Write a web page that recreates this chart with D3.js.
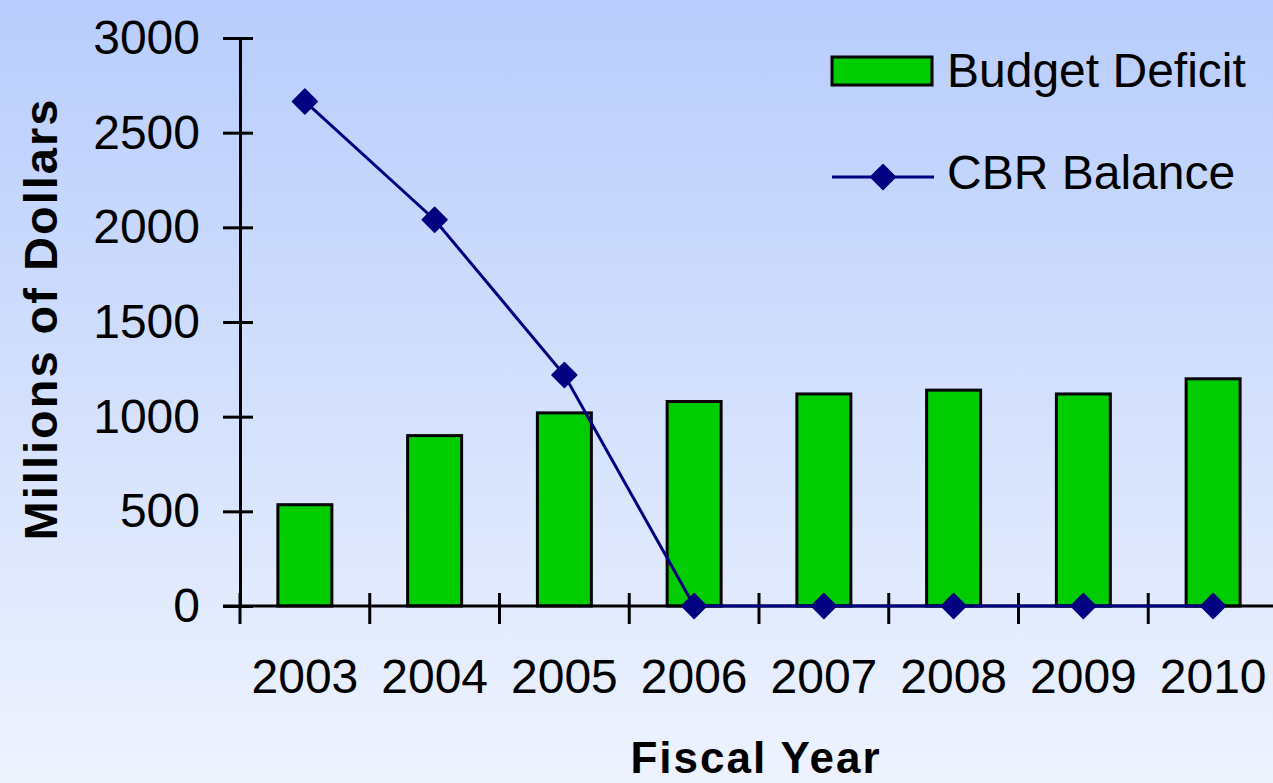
<!DOCTYPE html>
<html>
<head>
<meta charset="utf-8">
<script src="https://cdn.jsdelivr.net/npm/d3@7"></script>
<style>
  body { margin: 0; padding: 0; overflow: hidden; }
  svg { display: block; font-family: "Liberation Sans", Arial, sans-serif; }
</style>
</head>
<body>
<svg id="chart" width="1273" height="783"></svg>
<script>
// chart data
var years = ["2003", "2004", "2005", "2006", "2007", "2008", "2009", "2010"];
var budgetDeficit = [535, 900, 1020, 1080, 1120, 1140, 1120, 1200];
var cbrBalance = [2665, 2040, 1220, 0, 0, 0, 0, 0];
var yTicks = [0, 500, 1000, 1500, 2000, 2500, 3000];

var svg = d3.select("#chart");

// background gradient
var defs = svg.append("defs");
var grad = defs.append("linearGradient")
	.attr("id", "bg")
	.attr("x1", 0).attr("y1", 0)
	.attr("x2", 0).attr("y2", 1);
grad.append("stop").attr("offset", "0%").attr("stop-color", "#b8cdfc");
grad.append("stop").attr("offset", "100%").attr("stop-color", "#eef3fe");

svg.append("rect")
	.attr("width", 1273)
	.attr("height", 783)
	.attr("fill", "url(#bg)");

// scales
var x = d3.scaleBand()
	.domain(years)
	.range([240, 1278])
	.paddingInner(0.584)
	.paddingOuter(0.292);

var y = d3.scaleLinear()
	.domain([0, 3000])
	.range([606, 38]);

// bars
svg.append("g")
	.selectAll("rect")
	.data(years)
	.enter()
	.append("rect")
	.attr("x", (d) => x(d))
	.attr("y", (d, i) => y(budgetDeficit[i]))
	.attr("width", x.bandwidth())
	.attr("height", (d, i) => y(0) - y(budgetDeficit[i]))
	.attr("fill", "#00cc00")
	.attr("stroke", "#000")
	.attr("stroke-width", 3);

// y axis
var yAxis = svg.append("g")
	.attr("transform", "translate(240,0)")
	.call(d3.axisLeft(y).tickValues(yTicks).tickFormat(d3.format("d"))
		.tickSize(17).tickSizeOuter(0).tickPadding(23));
yAxis.select(".domain").attr("stroke-width", 3);
yAxis.selectAll(".tick line").attr("x1", 13).attr("stroke-width", 3);
yAxis.selectAll(".tick text")
	.attr("font-size", 48)
	.attr("font-family", "Liberation Sans, Arial, sans-serif")
	.attr("fill", "#000");

// x axis line
svg.append("line")
	.attr("x1", 223).attr("x2", 1273)
	.attr("y1", y(0)).attr("y2", y(0))
	.attr("stroke", "#000")
	.attr("stroke-width", 3);

// x ticks at band boundaries
svg.append("g")
	.selectAll("line")
	.data(years)
	.enter()
	.append("line")
	.attr("x1", (d) => x(d) + x.bandwidth() / 2 - x.step() / 2)
	.attr("x2", (d) => x(d) + x.bandwidth() / 2 - x.step() / 2)
	.attr("y1", y(0) - 13)
	.attr("y2", y(0) + 18)
	.attr("stroke", "#000")
	.attr("stroke-width", 3);

// x labels
svg.append("g")
	.selectAll("text")
	.data(years)
	.enter()
	.append("text")
	.attr("x", (d) => x(d) + x.bandwidth() / 2)
	.attr("y", 693)
	.attr("text-anchor", "middle")
	.attr("font-size", 48)
	.text((d) => d);

// line series
var line = d3.line()
	.x((d, i) => x(years[i]) + x.bandwidth() / 2)
	.y((d) => y(d));

svg.append("path")
	.datum(cbrBalance)
	.attr("d", line)
	.attr("fill", "none")
	.attr("stroke", "#000080")
	.attr("stroke-width", 3);

var diamond = d3.symbol().type(d3.symbolSquare).size(310);

svg.append("g")
	.selectAll("path")
	.data(cbrBalance)
	.enter()
	.append("path")
	.attr("d", diamond)
	.attr("transform", (d, i) => "translate(" + (x(years[i]) + x.bandwidth() / 2) + "," + y(d) + ") rotate(45)")
	.attr("fill", "#000080")
	.attr("stroke", "#000080")
	.attr("stroke-width", 1.5)
	.attr("stroke-linejoin", "round");

// axis titles
svg.append("text")
	.attr("transform", "translate(57,319) rotate(-90)")
	.attr("text-anchor", "middle")
	.attr("font-size", 47)
	.attr("font-weight", "bold")
	.attr("letter-spacing", 2)
	.text("Millions of Dollars");

svg.append("text")
	.attr("x", 756)
	.attr("y", 773)
	.attr("text-anchor", "middle")
	.attr("font-size", 44)
	.attr("font-weight", "bold")
	.attr("letter-spacing", 2)
	.text("Fiscal Year");

// legend
var legend = svg.append("g");
legend.append("rect")
	.attr("x", 832).attr("y", 57)
	.attr("width", 100).attr("height", 28)
	.attr("fill", "#00cc00")
	.attr("stroke", "#000")
	.attr("stroke-width", 3);
legend.append("text")
	.attr("x", 947).attr("y", 87)
	.attr("font-size", 48)
	.text("Budget Deficit");

legend.append("line")
	.attr("x1", 832).attr("x2", 934)
	.attr("y1", 177).attr("y2", 177)
	.attr("stroke", "#000080")
	.attr("stroke-width", 3);
legend.append("path")
	.attr("d", diamond)
	.attr("transform", "translate(883,177) rotate(45)")
	.attr("fill", "#000080")
	.attr("stroke", "#000080")
	.attr("stroke-width", 1.5)
	.attr("stroke-linejoin", "round");
legend.append("text")
	.attr("x", 947).attr("y", 189)
	.attr("font-size", 48)
	.text("CBR Balance");
</script>
</body>
</html>
